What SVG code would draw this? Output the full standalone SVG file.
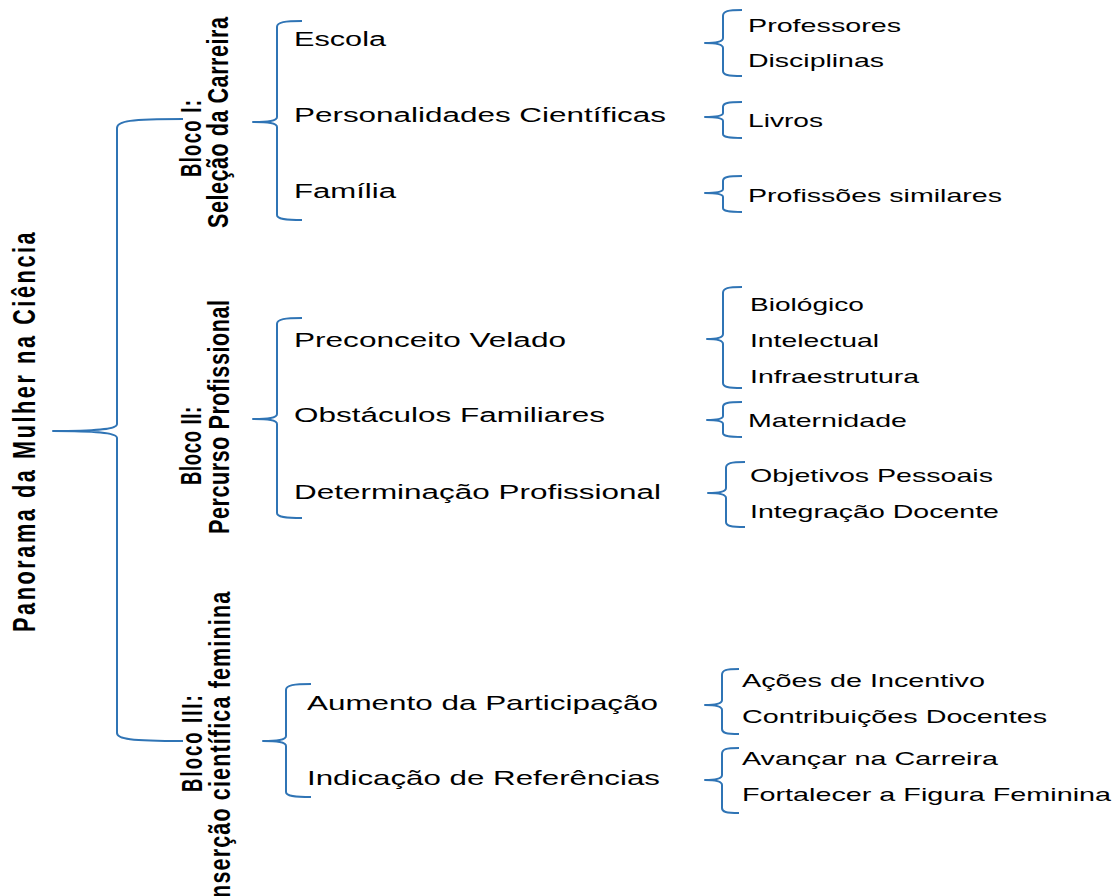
<svg xmlns="http://www.w3.org/2000/svg" width="1120" height="896" viewBox="0 0 1120 896">
<style>
.br{fill:none;stroke:#2F74B5;stroke-width:2;stroke-linejoin:round}
.t2{font-family:"Liberation Sans",Arial,sans-serif;font-size:20px;fill:#000}
.t2b{font-family:"Liberation Sans",Arial,sans-serif;font-size:21px;fill:#000}
.t3{font-family:"Liberation Sans",Arial,sans-serif;font-size:19px;fill:#000}
.rv{font-family:"Liberation Sans",Arial,sans-serif;font-weight:bold;font-size:30px;fill:#000}
.rp{font-family:"Liberation Sans",Arial,sans-serif;font-weight:bold;font-size:31px;fill:#000}
</style>
<rect width="1120" height="896" fill="#fff"/>
<g id="connectors">
<path class="br" d="M183,119 C130,119 117,121 117,128 L117,424 C117,429 100,431 53,431 C100,431 117,433 117,438 L117,733 C117,739 130,741 183,741"/>
<path class="br" d="M302,21 C285,21 277,22 277,27 L277,117 C277,121 268,122 253,122 C268,122 277,123 277,127 L277,215 C277,219 285,220 302,220"/>
<path class="br" d="M302,318 C285,318 277,319 277,324 L277,414 C277,418 268,419 253,419 C268,419 277,420 277,424 L277,513 C277,517 285,518 302,518"/>
<path class="br" d="M311,684 C294,684 286,685 286,690 L286,736 C286,740 277,741 263,741 C277,741 286,742 286,746 L286,792 C286,796 294,797 311,797"/>
<path class="br" d="M742,10 C728,10 723,11 723,16 L723,38 C723,42 716,43 705,43 C716,43 723,44 723,48 L723,71 C723,75 728,76 742,76"/>
<path class="br" d="M742,102 C728,102 723,103 723,107 L723,113 C723,116 716,117 705,117 C716,117 723,118 723,121 L723,134 C723,137 728,138 742,138"/>
<path class="br" d="M742,176 C728,176 723,177 723,181 L723,189 C723,192 716,193 705,193 C716,193 723,194 723,197 L723,208 C723,211 728,212 742,212"/>
<path class="br" d="M742,287 C728,287 723,288 723,293 L723,334 C723,338 716,339 707,339 C716,339 723,340 723,344 L723,383 C723,387 728,388 742,388"/>
<path class="br" d="M742,402 C728,402 723,403 723,407 L723,416 C723,419 716,420 707,420 C716,420 723,421 723,424 L723,433 C723,436 728,437 742,437"/>
<path class="br" d="M745,462 C731,462 726,463 726,468 L726,488 C726,492 719,493 708,493 C719,493 726,494 726,498 L726,522 C726,526 731,527 745,527"/>
<path class="br" d="M739,669 C726,669 722,670 722,675 L722,700 C722,704 715,705 705,705 C715,705 722,706 722,710 L722,729 C722,733 726,734 739,734"/>
<path class="br" d="M739,748 C726,748 722,749 722,754 L722,775 C722,779 715,780 705,780 C715,780 722,781 722,785 L722,808 C722,812 726,813 739,813"/>
</g>
<g id="root">
<text class="rp" transform="translate(35,632) rotate(-90) scale(0.7,1)" textLength="571" lengthAdjust="spacing">Panorama da Mulher na Ciência</text>
</g>
<g id="bloco1">
<text class="rv" transform="translate(201,177) rotate(-90) scale(0.62,1)" textLength="124" lengthAdjust="spacing">Bloco I:</text>
<text class="rv" transform="translate(228,228) rotate(-90) scale(0.72,1)" textLength="293" lengthAdjust="spacing">Seleção da Carreira</text>
</g>
<g id="bloco2">
<text class="rv" transform="translate(201,485) rotate(-90) scale(0.62,1)" textLength="126" lengthAdjust="spacing">Bloco II:</text>
<text class="rv" transform="translate(229,534) rotate(-90) scale(0.72,1)" textLength="325" lengthAdjust="spacing">Percurso Profissional</text>
</g>
<g id="bloco3">
<text class="rv" transform="translate(202,792) rotate(-90) scale(0.62,1)" textLength="156" lengthAdjust="spacing">Bloco III:</text>
<text class="rv" transform="translate(230,905) rotate(-90) scale(0.72,1)" textLength="435" lengthAdjust="spacing">Inserção científica feminina</text>
</g>
<g id="escola"><text class="t2" x="294" y="46" textLength="92" lengthAdjust="spacingAndGlyphs">Escola</text></g>
<g id="personalidades"><text class="t2" x="294" y="122" textLength="372" lengthAdjust="spacingAndGlyphs">Personalidades Científicas</text></g>
<g id="familia"><text class="t2" x="294" y="198" textLength="102" lengthAdjust="spacingAndGlyphs">Família</text></g>
<g id="preconceito"><text class="t2" x="294" y="347" textLength="272" lengthAdjust="spacingAndGlyphs">Preconceito Velado</text></g>
<g id="obstaculos"><text class="t2" x="294" y="422" textLength="311" lengthAdjust="spacingAndGlyphs">Obstáculos Familiares</text></g>
<g id="determinacao"><text class="t2" x="294" y="499" textLength="367" lengthAdjust="spacingAndGlyphs">Determinação Profissional</text></g>
<g id="aumento"><text class="t2b" x="307" y="710" textLength="351" lengthAdjust="spacingAndGlyphs">Aumento da Participação</text></g>
<g id="indicacao"><text class="t2b" x="307" y="785" textLength="353" lengthAdjust="spacingAndGlyphs">Indicação de Referências</text></g>
<g id="professores"><text class="t3" x="748" y="32" textLength="153" lengthAdjust="spacingAndGlyphs">Professores</text></g>
<g id="disciplinas"><text class="t3" x="748" y="67" textLength="136" lengthAdjust="spacingAndGlyphs">Disciplinas</text></g>
<g id="livros"><text class="t3" x="748" y="127" textLength="75" lengthAdjust="spacingAndGlyphs">Livros</text></g>
<g id="profissoes"><text class="t3" x="748" y="202" textLength="254" lengthAdjust="spacingAndGlyphs">Profissões similares</text></g>
<g id="biologico"><text class="t3" x="750" y="311" textLength="114" lengthAdjust="spacingAndGlyphs">Biológico</text></g>
<g id="intelectual"><text class="t3" x="750" y="347" textLength="129" lengthAdjust="spacingAndGlyphs">Intelectual</text></g>
<g id="infraestrutura"><text class="t3" x="750" y="383" textLength="169" lengthAdjust="spacingAndGlyphs">Infraestrutura</text></g>
<g id="maternidade"><text class="t3" x="748" y="427" textLength="159" lengthAdjust="spacingAndGlyphs">Maternidade</text></g>
<g id="objetivos"><text class="t3" x="750" y="482" textLength="243" lengthAdjust="spacingAndGlyphs">Objetivos Pessoais</text></g>
<g id="integracao"><text class="t3" x="750" y="518" textLength="249" lengthAdjust="spacingAndGlyphs">Integração Docente</text></g>
<g id="acoes"><text class="t3" x="742" y="687" textLength="243" lengthAdjust="spacingAndGlyphs">Ações de Incentivo</text></g>
<g id="contribuicoes"><text class="t3" x="742" y="723" textLength="305" lengthAdjust="spacingAndGlyphs">Contribuições Docentes</text></g>
<g id="avancar"><text class="t3" x="742" y="765" textLength="256" lengthAdjust="spacingAndGlyphs">Avançar na Carreira</text></g>
<g id="fortalecer"><text class="t3" x="742" y="801" textLength="369" lengthAdjust="spacingAndGlyphs">Fortalecer a Figura Feminina</text></g>
</svg>
